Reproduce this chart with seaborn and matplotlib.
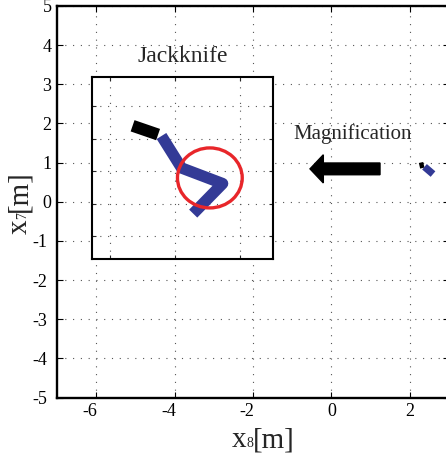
import matplotlib
matplotlib.use("Agg")
import matplotlib.pyplot as plt
import matplotlib.transforms as mtransforms
import seaborn as sns
from matplotlib.patches import Ellipse

# ---------------- data ----------------
x_ticks = [-6, -4, -2, 0, 2]
x_ticklabels = ["-6", "-4", "-2", "0", "2"]
y_ticks = [-5, -4, -3, -2, -1, 0, 1, 2, 3, 4, 5]
y_ticklabels = ["-5", "-4", "-3", "-2", "-1", "0", "1", "2", "3", "4", "5"]

# truck in main axes (small, far right)
main_cab_x = [2.286, 2.319]
main_cab_y = [1.003, 0.860]
main_trailer_x = [2.375, 2.592]
main_trailer_y = [0.893, 0.707]

# magnified truck in inset (inset's own coordinates)
inset_cab_x = [0.351, 0.743]
inset_cab_y = [1.700, 1.565]
inset_trailer_x = [0.795, 1.103, 1.734, 1.282]
inset_trailer_y = [1.543, 1.051, 0.811, 0.349]
circle_center = (1.538, 0.898)
circle_size = (0.995, 0.923)
inset_x_ticks = [0, 1, 2]
inset_y_ticks = [0, 0.5, 1, 1.5, 2]

arrow_tail = (1.24, 0.84)
arrow_tip_x = -0.546

title_inset = "Jackknife"
title_arrow = "Magnification"
xlabel_parts = ["x", "8", "[m]"]
ylabel_parts = ["x", "7", "[m]"]

# ---------------- style ----------------
sns.set_style("ticks")
FONT = "Liberation Serif"
plt.rcParams["font.family"] = "serif"
plt.rcParams["font.serif"] = [FONT, "DejaVu Serif"]
plt.rcParams["axes.unicode_minus"] = False

W, H = 446, 457
fig = plt.figure(figsize=(W / 100, H / 100), dpi=100)
fig.patch.set_facecolor("white")

grid_kw = dict(color="#555555", linestyle=(0, (1, 6)), linewidth=0.8)

# main axes
ax = fig.add_axes([57 / W, 1 - 397.5 / H, 392 / W, 391.5 / H])
ax.set_xlim(-7, 3)
ax.set_ylim(-5, 5)
ax.set_xticks(x_ticks)
ax.set_xticklabels(x_ticklabels, family=FONT, fontsize=13)
ax.set_yticks(y_ticks)
ax.set_yticklabels(y_ticklabels, family=FONT, fontsize=13)
ax.tick_params(direction="in", length=4, width=0.8, pad=4,
               top=True, right=True, colors="black")
for s in ax.spines.values():
    s.set_linewidth(1.7)
    s.set_color("black")
ax.grid(True, **grid_kw)
ax.set_axisbelow(True)

blue = "#333a96"
sns.lineplot(x=main_cab_x, y=main_cab_y, ax=ax, color="black", linewidth=3.2,
             sort=False, estimator=None, solid_capstyle="butt")
sns.lineplot(x=main_trailer_x, y=main_trailer_y, ax=ax, color=blue, linewidth=5.2,
             sort=False, estimator=None, solid_capstyle="butt")

ax.arrow(arrow_tail[0], arrow_tail[1], arrow_tip_x - arrow_tail[0], 0,
         width=0.30, head_width=0.72, head_length=0.34,
         length_includes_head=True, color="black", zorder=5)

ax.text(-3.786, 3.58, title_inset, fontsize=17, ha="center", va="baseline",
        family=FONT)
ax.text(0.551, 1.60, title_arrow, fontsize=15, ha="center", va="baseline",
        family=FONT)

# inset axes
axi = fig.add_axes([91.7 / W, 1 - 259.3 / H, 181.3 / W, 182 / H])
axi.set_facecolor("white")
axi.set_xlim(-0.277, 2.508)
axi.set_ylim(-0.354, 2.446)
axi.set_xticks(inset_x_ticks)
axi.set_yticks(inset_y_ticks)
axi.set_xticklabels([])
axi.set_yticklabels([])
axi.tick_params(direction="in", length=3, width=0.8, top=True, right=True)
for s in axi.spines.values():
    s.set_linewidth(1.5)
    s.set_color("black")
axi.grid(True, **grid_kw)
axi.set_axisbelow(True)

sns.lineplot(x=inset_cab_x, y=inset_cab_y, ax=axi, color="black", linewidth=8.6,
             sort=False, estimator=None, solid_capstyle="butt")
sns.lineplot(x=inset_trailer_x, y=inset_trailer_y, ax=axi, color=blue, linewidth=8.2,
             sort=False, estimator=None, solid_capstyle="butt",
             solid_joinstyle="round")
axi.add_patch(Ellipse(circle_center, circle_size[0], circle_size[1],
                      fill=False, edgecolor="#e8262a", linewidth=2.4, zorder=6))

fig.canvas.draw()
renderer = fig.canvas.get_renderer()

# negative tick labels sit a little to the left, as in the reference
for lab in ax.get_xticklabels():
    if lab.get_text().startswith("-"):
        lab.set_transform(lab.get_transform() +
                          mtransforms.ScaledTranslation(-6 / 100, 0, fig.dpi_scale_trans))
for lab in ax.get_yticklabels():
    if lab.get_text().startswith("-"):
        lab.set_transform(lab.get_transform() +
                          mtransforms.ScaledTranslation(-4 / 100, 0, fig.dpi_scale_trans))


# axis labels built from pieces (subscript digit sitting on the baseline)
def place_pieces(parts, sizes, x0, y0, rotation):
    pos = x0 if rotation == 0 else y0
    for text, size in zip(parts, sizes):
        if rotation == 0:
            t = fig.text(pos / W, 1 - y0 / H, text, fontsize=size,
                         ha="left", va="baseline", rotation=0,
                         rotation_mode="anchor", family=FONT)
            bb = t.get_window_extent(renderer)
            pos += bb.width
        else:
            t = fig.text(x0 / W, 1 - pos / H, text, fontsize=size,
                         ha="left", va="baseline", rotation=90,
                         rotation_mode="anchor", family=FONT)
            bb = t.get_window_extent(renderer)
            pos -= bb.height


sizes = [21, 10, 21]
place_pieces(xlabel_parts, sizes, 231.5, 447.3, 0)
place_pieces(ylabel_parts, sizes, 26.5, 234.0, 90)

fig.savefig("out.png", dpi=100, facecolor="white")
